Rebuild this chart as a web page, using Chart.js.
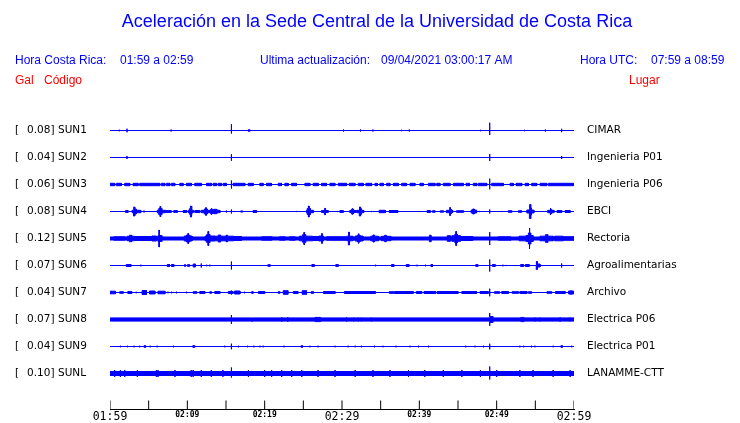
<!DOCTYPE html>
<html><head><meta charset="utf-8">
<script src="https://cdn.jsdelivr.net/npm/chart.js@4.4.1/dist/chart.umd.min.js"></script>
<style>html,body{margin:0;padding:0;background:#fff;overflow:hidden}canvas{display:block}</style>
</head><body>
<canvas id="c" width="740" height="423"></canvas>
<script>
// ---------------- data ----------------
const titleText = 'Aceleración en la Sede Central de la Universidad de Costa Rica';
const headerLabels = ['Hora Costa Rica:', '01:59 a 02:59', 'Ultima actualización:', '09/04/2021 03:00:17 AM', 'Hora UTC:', '07:59 a 08:59'];
const columnLabels = ['Gal', 'Código', 'Lugar'];
const stationCodes = ['SUN1', 'SUN2', 'SUN3', 'SUN4', 'SUN5', 'SUN6', 'SUN7', 'SUN8', 'SUN9', 'SUNL'];
const galValues = ['0.08', '0.04', '0.06', '0.08', '0.12', '0.07', '0.04', '0.07', '0.04', '0.10'];
const places = ['CIMAR', 'Ingenieria P01', 'Ingenieria P06', 'EBCI', 'Rectoria', 'Agroalimentarias', 'Archivo', 'Electrica P06', 'Electrica P01', 'LANAMME-CTT'];
const tickLabels = ['01:59', '02:09', '02:19', '02:29', '02:39', '02:49', '02:59'];
const tickMinutes = [0, 5, 10, 15, 20, 25, 30, 35, 40, 45, 50, 55, 60];
// background noise half-amplitude of each trace
const baseNoise = [0, 0, 0, 0, 1.5, 0, 0, 1.6, 0, 2];
// events: [startMinute, endMinute, upAmplitude, downAmplitude?]
const sun1Events = [[1.2,1.2,0.8],[2.2,2.2,1.8],[7.9,7.9,1.0],[15.7,15.7,6.3,3],[17.85,18.1,0.7],[30.2,30.2,1.0],[32.4,32.4,1.0],[34.0,34.0,1.0],[37.7,37.7,0.7],[38.7,38.7,1.0],[47.9,47.9,0.7],[49.1,49.1,7.8,4.5],[53.6,53.6,0.7],[56.3,56.3,1.0],[58.4,58.4,1.7]];
const sun2Events = [[2.2,2.2,1.5],[15.7,15.7,3.3],[49.1,49.1,3.5],[58.4,58.4,1.5]];
const sun3Events = [[0,0.6,1.2],[0.82,1.47,1.2],[1.9,2.55,1.2],[2.98,3.63,1.2],[3.84,6.43,1.2],[6.65,7.08,1.2],[7.3,7.73,1.2],[7.94,8.37,1.2],[9.02,9.45,1.2],[9.88,10.53,1.2],[10.96,11.82,1.2],[12.47,13.12,1.2],[13.33,13.77,1.2],[13.98,14.41,1.2],[14.63,15.06,1.2],[15.7,15.7,4],[15.92,17.43,1.2],[17.86,18.51,1.2],[19.37,19.8,1.2],[20.24,20.88,1.2],[21.75,22.18,1.2],[22.61,23.04,1.2],[23.47,24.12,1.2],[25.2,25.85,1.2],[26.27,26.92,1.2],[27.35,28.0,1.2],[28.43,29.08,1.2],[29.51,30.59,1.2],[30.94,31.67,1.2],[32.1,32.75,1.2],[33.09,33.83,1.2],[34.26,34.56,1.2],[34.9,35.34,1.2],[35.77,36.2,1.2],[36.63,37.28,1.2],[37.71,38.35,1.2],[38.79,39.43,1.2],[40.08,40.51,1.2],[41.16,42.02,1.2],[42.24,42.67,1.2],[43.1,43.97,1.2],[44.4,45.69,1.2],[46.04,46.47,1.2],[46.98,47.42,1.2],[47.63,48.71,1.2],[49.1,49.1,5.8,4.8],[49.36,50.86,1.2],[51.73,52.16,1.2],[52.51,53.24,1.2],[53.67,54.11,1.2],[54.53,55.18,1.2],[55.61,56.47,1.2],[56.69,59.93,1.2]];
const sun4Events = [[2.0,2.33,0.9],[2.85,3.97,1.2],[3.0,3.4,2.5],[3.1,3.2,4.5],[4.4,4.4,1.0],[5.7,5.7,0.6],[6.1,7.2,1.2],[6.3,6.7,3],[6.45,6.55,5],[7.2,7.9,0.9],[8.24,8.7,0.9],[9.45,9.88,1.0],[10.1,10.75,1.2],[10.3,10.6,3],[10.4,10.5,5.5],[10.96,11.6,1.0],[11.8,14.2,1.2],[12.2,12.6,2.5],[12.35,12.45,3.8],[13.0,13.3,2.2],[13.1,13.15,3.2],[13.4,13.8,2.2],[15.06,15.06,1.0],[15.7,15.7,2],[16.05,16.05,0.6],[16.9,17.15,0.6],[18.5,18.95,1.0],[24.1,24.1,0.6],[25.4,26.3,1.2],[25.5,25.9,3],[25.65,25.75,5.5],[27.35,28.2,1.0],[27.7,27.9,2.2],[27.78,27.82,3.2],[29.4,29.4,0.6],[29.73,30.15,1.0],[31.0,31.9,1.0],[31.2,31.5,2.2],[31.3,31.4,3.2],[31.9,32.8,1.2],[32.2,32.5,2.8],[32.3,32.4,4.5],[33.8,33.8,0.6],[34.8,35.6,1.2],[36.1,37.2,1.0],[41.0,41.4,1.0],[41.7,42.0,0.8],[42.7,43.1,0.7],[43.5,44.3,1.2],[43.9,44.1,2.5],[43.95,44.0,4],[44.8,45.7,0.8],[46.7,47.4,1.5],[46.9,47.1,2.5],[47.8,47.8,0.6],[49.1,49.1,2],[50.65,50.65,0.6],[51.5,51.95,0.8],[52.8,53.2,0.8],[53.9,54.8,1.5],[54.2,54.5,3.5],[54.3,54.4,7],[56.6,57.4,1.2],[56.9,57.1,2.2],[56.95,57.0,3.5],[57.8,58.4,1.0],[58.85,59.5,1.0]];
const sun5Events = [[0.5,1.9,1.8],[2.2,3.2,2.2],[2.5,2.8,3.2],[3.2,5.4,2],[5.4,6.0,2.5],[6.2,6.7,3],[6.3,6.4,5],[6.33,6.37,8.5],[9.6,10.6,2.5],[9.9,10.3,3.5],[10.05,10.15,5],[12.3,13.6,2.5],[12.5,12.9,4],[12.65,12.75,7],[13.6,16.0,2.3],[14.0,14.3,3.5],[15.0,15.2,3.2],[16.0,17.0,2],[19.6,20.9,1.8],[21.9,22.6,1.8],[23.2,23.9,1.8],[24.5,26.2,2.3],[24.9,25.3,3.8],[25.05,25.15,6],[26.2,27.0,2],[27.0,27.6,2.5],[27.38,27.42,5],[28.0,30.6,1.8],[30.6,31.4,2.3],[30.8,31.0,4],[30.88,30.92,6.5],[31.7,32.7,2.5],[32.0,32.3,3.5],[32.12,32.18,5],[33.7,34.7,2.3],[34.0,34.2,3.5],[35.1,36.3,2.2],[35.5,35.7,3.2],[41.3,41.5,3.2],[43.6,44.0,2.8],[44.2,45.3,2.8],[44.6,44.9,4.5],[44.7,44.8,7],[45.3,46.9,2],[49.1,49.1,6.5],[50.2,51.8,1.8],[52.9,53.8,2.3],[53.8,54.7,3],[54.1,54.4,5.5],[54.22,54.28,10.5],[55.6,57.3,2.3],[56.3,56.6,3.8],[57.5,58.6,2.3],[58.6,60,1.8]];
const sun6Events = [[2.1,2.7,1.0],[4.0,4.0,0.8],[7.4,7.7,1.0],[7.95,8.25,1.0],[9.7,9.7,1.5],[10.0,10.3,0.8],[10.75,11.05,1.5],[11.8,11.8,2],[12.5,12.5,0.8],[12.9,12.9,0.8],[15.7,15.7,4],[20.4,20.7,0.8],[26.1,26.4,1.0],[29.2,29.5,1.0],[34.35,34.35,0.8],[36.4,36.7,1.0],[38.3,38.65,1.0],[39.7,39.7,0.8],[40.8,40.8,0.8],[41.5,41.7,1.0],[47.3,47.55,1.0],[49.1,49.1,6],[49.45,49.8,1.0],[50.8,50.8,0.8],[51.2,51.2,0.6],[53.1,53.45,1.0],[53.7,54.2,1.0],[55.1,55.6,1.5],[55.15,55.25,4],[58.4,58.4,2]];
const sun7Events = [[0,0.7,1.3],[1.25,1.7,0.8],[2.3,2.8,1.0],[3.4,3.4,0.8],[4.15,4.7,2],[5.1,5.8,1.5],[6.2,7.1,1.3],[7.5,7.5,0.8],[7.95,7.95,0.8],[8.6,8.6,0.8],[9.9,9.9,0.8],[10.75,11.2,0.8],[11.6,12.25,1.0],[12.9,13.1,0.8],[13.55,14.2,1.0],[15.3,15.9,1.0],[15.7,15.7,2],[16.1,16.8,1.5],[17.4,17.4,0.8],[18.3,18.5,0.8],[19.2,20.0,1.0],[21.75,21.95,0.8],[22.4,23.0,1.8],[23.7,24.3,1.0],[24.85,25.4,1.8],[26.0,26.3,0.8],[27.6,29.1,1.0],[30.3,34.3,1.0],[36.1,36.8,0.8],[36.85,39.2,1.0],[39.6,40.3,1.0],[40.6,42.1,1.0],[42.3,45.0,1.0],[45.5,47.4,1.0],[47.85,48.9,1.0],[49.1,49.1,3.8],[49.7,50.35,0.8],[50.65,51.5,1.0],[52.0,52.8,0.8],[53.0,53.9,1.0],[54.1,54.5,0.8],[56.5,57.1,0.8],[57.6,58.85,1.0],[59.3,59.95,1.5],[59.6,59.6,2]];
const sun8Events = [[15.7,15.7,4.5],[18.4,18.4,1.6,2.4],[22.2,22.2,2.3],[23.0,23.0,2.3],[26.5,27.2,2.1],[30.6,30.6,2.3],[31.5,31.5,2],[32.1,32.1,2],[32.5,32.5,2],[33.8,33.8,2],[49.1,49.1,6.5],[49.1,49.5,3],[53.1,53.5,2.1],[54.95,54.95,2],[55.6,55.6,2],[58.2,58.2,2.3],[59.5,59.5,2]];
const sun9Events = [[1.34,1.34,0.8],[2.25,2.25,0.8],[3.1,3.1,0.8],[3.84,3.84,0.8],[4.4,4.6,0.8],[5.2,5.2,0.8],[6.1,6.1,0.8],[8.2,8.2,0.8],[10.7,10.95,0.8],[14.84,14.84,0.8],[15.7,15.7,2.8],[16.6,16.6,0.8],[17.8,17.8,0.8],[18.6,18.6,0.8],[19.4,19.4,0.8],[19.8,19.8,0.8],[22.5,22.5,0.8],[24.7,24.9,0.8],[25.85,25.85,0.8],[26.9,26.9,0.8],[29.1,29.1,0.8],[30.8,30.8,0.8],[31.7,31.7,0.8],[32.5,32.5,0.8],[34.2,34.2,0.8],[35.3,35.3,0.8],[37.0,37.0,0.8],[38.8,38.8,0.8],[39.9,39.9,0.8],[41.2,41.2,0.8],[46.0,46.0,0.8],[47.2,47.2,0.8],[48.3,48.3,0.8],[49.1,49.1,2.8],[53.0,53.0,0.8],[53.5,53.5,0.8],[54.5,54.5,0.8],[54.95,54.95,0.8],[57.3,57.3,0.8],[58.3,58.5,0.8],[59.7,59.7,0.8]];
const sunLEvents = [[0.6,0.6,3.5],[1.34,1.34,3.5],[1.9,1.9,3.5],[3.54,3.54,3.5],[6.0,6.0,3.5],[6.2,6.2,3.5],[8.4,8.4,3.5],[10.5,10.5,3.5],[10.75,10.75,3.5],[11.8,11.8,3.5],[13.1,13.1,3.5],[14.6,14.6,3.5],[15.7,15.7,6,4],[17.9,17.9,3.5],[20.0,20.0,3.5],[20.9,20.9,3.5],[22.2,22.2,3.5],[23.5,23.5,3.5],[24.8,24.8,3.5],[26.9,26.9,3.5],[29.1,29.1,3.5],[31.7,31.7,3.5],[34.0,34.0,3.5],[36.2,36.2,3.5],[38.6,38.6,3.5],[40.7,40.7,3.5],[43.1,43.1,3.5],[45.5,45.5,3.5],[47.9,47.9,3.5],[49.1,49.1,7,6],[50.0,50.0,3.5],[53.0,53.0,3.5],[54.7,54.7,3.5],[57.3,57.3,3.5],[59.5,59.5,3.5]];
const traceEvents = [sun1Events, sun2Events, sun3Events, sun4Events, sun5Events, sun6Events, sun7Events, sun8Events, sun9Events, sunLEvents];

// ---------------- build ----------------
const SPAN = 60, SPACING = 27, N = stationCodes.length;
const center = i => (N - 1 - i) * SPACING;

function amps(events, a0, t0, t1, side) {
  let m = a0;
  for (const e of events) {
    const v = side === 'up' ? e[2] : (e[3] !== undefined ? e[3] : e[2]);
    if (t1 === null ? (e[0] <= t0 && e[1] >= t0) : (e[0] < e[1] && e[0] <= t0 && e[1] >= t1)) m = Math.max(m, v);
  }
  return m;
}
function profile(events, a0, side) {
  const set = new Set([0, SPAN]);
  events.forEach(e => { set.add(e[0]); set.add(e[1]); });
  const ts = [...set].sort((a, b) => a - b);
  const pts = [];
  const push = (t, v) => { const l = pts[pts.length - 1]; if (!l || l[0] !== t || l[1] !== v) pts.push([t, v]); };
  ts.forEach((t, k) => {
    const left = k > 0 ? amps(events, a0, ts[k - 1], t, side) : null;
    const right = k < ts.length - 1 ? amps(events, a0, t, ts[k + 1], side) : null;
    const peak = amps(events, a0, t, null, side);
    if (left !== null) push(t, left);
    if (peak > Math.max(left ?? 0, right ?? 0)) push(t, peak);
    if (right !== null) push(t, right);
  });
  return pts;
}
const traceDatasets = traceEvents.map((ev, i) => {
  const c = center(i);
  const up = profile(ev, baseNoise[i], 'up').map(p => ({x: p[0], y: c + p[1]}));
  const dn = profile(ev, baseNoise[i], 'down').map(p => ({x: p[0], y: c - p[1]})).reverse();
  return {
    label: stationCodes[i], data: up.concat(dn),
    borderColor: '#0000ff', backgroundColor: '#0000ff', borderWidth: 1,
    pointRadius: 0, fill: 'shape', tension: 0, borderJoinStyle: 'bevel'
  };
});
const AXIS_Y = -36;
const tickData = [];
tickMinutes.forEach(t => { tickData.push({x: t, y: AXIS_Y}, {x: t, y: AXIS_Y + 9}, {x: t, y: null}); });

const textPlugin = {
  id: 'texts',
  afterDraw(chart) {
    const ctx = chart.ctx, ys = chart.scales.y;
    ctx.save();
    ctx.textBaseline = 'middle';
    ctx.textAlign = 'center';
    ctx.fillStyle = '#0000ff';
    ctx.font = '18px "Liberation Sans", Arial, sans-serif';
    ctx.fillText(titleText, 377, 22);
    ctx.textAlign = 'left';
    ctx.font = '12px "Liberation Sans", Arial, sans-serif';
    const hx = [15, 120, 260, 381, 580, 651];
    headerLabels.forEach((s, k) => ctx.fillText(s, hx[k], 60.5));
    ctx.fillStyle = '#ff0000';
    ctx.fillText(columnLabels[0], 15, 81);
    ctx.fillText(columnLabels[1], 44, 81);
    ctx.fillText(columnLabels[2], 629, 81);
    ctx.fillStyle = '#000000';
    ctx.font = '10.5px "DejaVu Sans", sans-serif';
    stationCodes.forEach((code, i) => {
      const y = ys.getPixelForValue(center(i));
      ctx.fillText('[', 15, y);
      ctx.fillText(galValues[i] + ']', 27, y);
      ctx.fillText(code, 58, y);
      ctx.fillText(places[i], 587, y);
    });
    ctx.restore();
  }
};

new Chart(document.getElementById('c'), {
  type: 'line',
  data: {
    datasets: traceDatasets.concat([{
      label: 'ticks', data: tickData, borderColor: '#000000', borderWidth: 1,
      pointRadius: 0, fill: false, spanGaps: false
    }])
  },
  options: {
    responsive: false, animation: false, devicePixelRatio: 1,
    layout: {padding: {left: 110, right: 166, top: 100.5, bottom: 0}},
    plugins: {legend: {display: false}, tooltip: {enabled: false}, title: {display: false}},
    scales: {
      x: {
        type: 'linear', min: 0, max: SPAN,
        grid: {display: false, drawTicks: false},
        border: {display: true, color: '#000000', width: 1},
        afterFit(s) { s.height = 13.5; },
        afterBuildTicks(s) { s.ticks = tickLabels.map((_, k) => ({value: k * 10})); },
        ticks: {
          padding: 1, color: '#000000', maxRotation: 0, autoSkip: false,
          callback: (v, k) => tickLabels[k],
          font: ctx => (ctx.index % 3 === 0)
            ? {family: '"DejaVu Sans Mono", monospace', size: 11.5}
            : {family: '"DejaVu Sans Mono", monospace', size: 8, weight: 'bold'}
        }
      },
      y: {type: 'linear', min: AXIS_Y, max: 273, display: false}
    }
  },
  plugins: [textPlugin]
});
</script>
</body></html>
